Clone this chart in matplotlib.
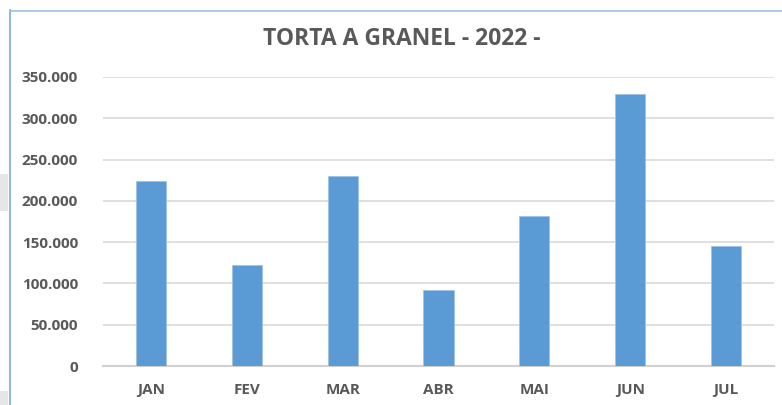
import matplotlib
matplotlib.use("Agg")
import matplotlib.pyplot as plt
from matplotlib.patches import Rectangle
from matplotlib.lines import Line2D
from matplotlib.ticker import FuncFormatter, MultipleLocator

months = ["JAN", "FEV", "MAR", "ABR", "MAI", "JUN", "JUL"]
values = [224000, 122700, 230300, 91900, 181200, 329500, 144800]
title = "TORTA A GRANEL - 2022 -"

W, H = 782, 405
fig = plt.figure(figsize=(W / 100, H / 100), dpi=100)
fig.patch.set_facecolor("white")

# axes placement in pixels
left, right, top, bottom = 103, 774, 77, 366
ax = fig.add_axes([left / W, 1 - bottom / H, (right - left) / W, (bottom - top) / H])

text_color = "#595959"
font = "Open Sans"

x = list(range(len(months)))
ax.bar(x, values, width=0.315, color="#5b9bd5", edgecolor="#9dc3e6", linewidth=0.6, zorder=3)
ax.set_xlim(-0.5, len(months) - 0.5)
ax.set_ylim(0, 350000)
ax.yaxis.set_major_locator(MultipleLocator(50000))
ax.yaxis.set_major_formatter(FuncFormatter(lambda v, p: "0" if v == 0 else f"{int(v):,}".replace(",", ".")))
ax.grid(axis="y", color="#d9d9d9", linewidth=1.2, zorder=0)
ax.set_xticks(x)
ax.set_xticklabels(months)
for s in ["top", "right", "left"]:
    ax.spines[s].set_visible(False)
ax.spines["bottom"].set_color("#d0d0d0")
ax.spines["bottom"].set_linewidth(1.5)
ax.tick_params(axis="both", length=0, colors=text_color)
ax.tick_params(axis="y", pad=18)
ax.tick_params(axis="x", pad=12)
for lab in ax.get_yticklabels() + ax.get_xticklabels():
    lab.set_fontfamily(font)
    lab.set_fontweight("bold")
    lab.set_fontsize(11)
    lab.set_color(text_color)

fig.text(402 / W, 1 - 39 / H, title, ha="center", va="center", fontsize=16.5,
         fontweight="bold", color=text_color, family=font)

# chart border (blue) and gray surrounding patches
fig.add_artist(Line2D([9.5 / W, 9.5 / W], [0, 1 - 10 / H], transform=fig.transFigure,
                      color="#7aa9dd", linewidth=1.2))
fig.add_artist(Line2D([9.5 / W, 1], [1 - 10.5 / H, 1 - 10.5 / H], transform=fig.transFigure,
                      color="#9cc0e6", linewidth=1.2))
fig.add_artist(Rectangle((0, 1 - 211 / H), 8 / W, 37 / H, transform=fig.transFigure,
                         facecolor="#e6e6e6", edgecolor="none"))
fig.add_artist(Rectangle((0, 0), 8 / W, 14 / H, transform=fig.transFigure,
                         facecolor="#e6e6e6", edgecolor="none"))

fig.savefig("out.png", dpi=100, facecolor="white")
